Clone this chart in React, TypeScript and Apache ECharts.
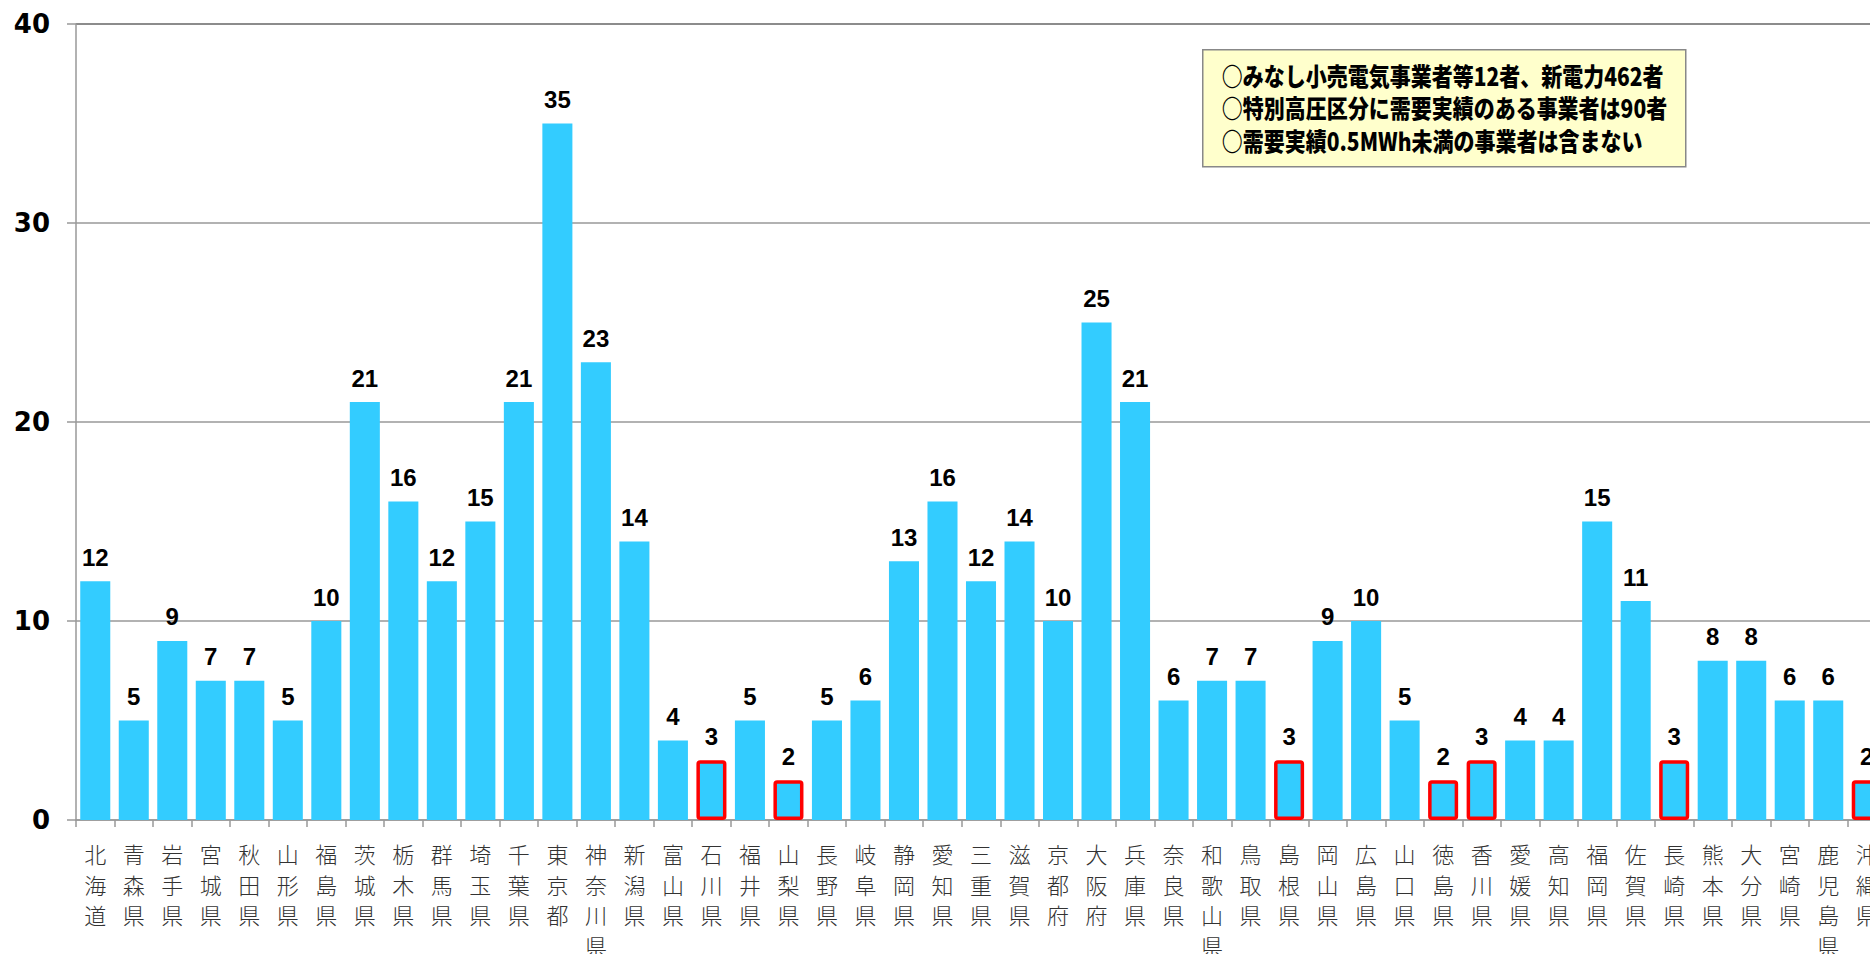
import React, { useEffect, useRef } from "react";
import * as echarts from "echarts";

const prefectures: string[] = [
  "北海道", "青森県", "岩手県", "宮城県", "秋田県", "山形県", "福島県", "茨城県", "栃木県", "群馬県",
  "埼玉県", "千葉県", "東京都", "神奈川県", "新潟県", "富山県", "石川県", "福井県", "山梨県", "長野県",
  "岐阜県", "静岡県", "愛知県", "三重県", "滋賀県", "京都府", "大阪府", "兵庫県", "奈良県", "和歌山県",
  "鳥取県", "島根県", "岡山県", "広島県", "山口県", "徳島県", "香川県", "愛媛県", "高知県", "福岡県",
  "佐賀県", "長崎県", "熊本県", "大分県", "宮崎県", "鹿児島県", "沖縄県",
];

const operatorCounts: number[] = [
  12, 5, 9, 7, 7, 5, 10, 21, 16, 12,
  15, 21, 35, 23, 14, 4, 3, 5, 2, 5,
  6, 13, 16, 12, 14, 10, 25, 21, 6, 7,
  7, 3, 9, 10, 5, 2, 3, 4, 4, 15,
  11, 3, 8, 8, 6, 6, 2,
];

const highlighted: string[] = ["石川県", "山梨県", "島根県", "徳島県", "香川県", "長崎県", "沖縄県"];

const yTicks: number[] = [0, 10, 20, 30, 40];

const noteLines: string[] = [
  "○みなし小売電気事業者等12者、新電力462者",
  "○特別高圧区分に需要実績のある事業者は90者",
  "○需要実績0.5MWh未満の事業者は含まない",
];

export default function App() {
  const ref = useRef<HTMLDivElement>(null);

  useEffect(() => {
    if (!ref.current) return;
    const chart = echarts.init(ref.current, undefined, { renderer: "svg" });

    const data = operatorCounts.map((v, i) => {
      const isHi = highlighted.includes(prefectures[i]);
      return isHi
        ? { value: v, itemStyle: { color: "#33CCFF", borderColor: "#FF0000", borderWidth: 3.5, borderRadius: 2 } }
        : { value: v };
    });

    chart.setOption({
      animation: false,
      backgroundColor: "#ffffff",
      grid: { left: 76, right: 4, top: 24, bottom: 180, containLabel: false, outerBoundsMode: "none" },
      xAxis: {
        type: "category",
        data: prefectures,
        boundaryGap: true,
        axisLine: { show: true, lineStyle: { color: "#999999", width: 1.5 } },
        axisTick: { show: true, length: 7, lineStyle: { color: "#999999", width: 1.5 } },
        axisLabel: {
          interval: 0,
          margin: 18,
          fontSize: 22,
          lineHeight: 30.5,
          color: "#333333",
          fontFamily: "Noto Sans CJK JP",
          fontWeight: 300,
          formatter: (v: string) => v.split("").join("\n"),
        },
      },
      yAxis: {
        type: "value",
        min: yTicks[0],
        max: yTicks[yTicks.length - 1],
        interval: 10,
        axisLine: { show: true, lineStyle: { color: "#999999", width: 1.5 } },
        axisTick: { show: true, length: 9, lineStyle: { color: "#999999", width: 1.5 } },
        axisLabel: {
          margin: 26,
          fontSize: 26,
          fontWeight: "bold",
          color: "#000000",
          fontFamily: "DejaVu Sans",
        },
        splitLine: {
          show: true,
          lineStyle: { color: ["#999999", "#999999", "#999999", "#999999", "#666666"], width: 1.5 },
        },
      },
      series: [
        {
          type: "bar",
          data,
          barCategoryGap: "22%",
          itemStyle: { color: "#33CCFF" },
          label: {
            show: true,
            position: "top",
            distance: 12,
            fontSize: 24,
            fontWeight: "bold",
            color: "#000000",
            fontFamily: "Liberation Sans",
          },
        },
      ],
      graphic: [
        {
          type: "group",
          left: 1202,
          top: 49,
          children: [
            {
              type: "rect",
              shape: { x: 0, y: 0, width: 483, height: 117 },
              style: { fill: "#FFFFCC", stroke: "#888888", lineWidth: 1.5 },
            },
            ...noteLines.map((t, i) => ({
              type: "text",
              x: 19,
              y: 25 + i * 32.5,
              scaleX: 0.84,
              style: {
                text: t,
                fontSize: 25,
                fontWeight: 900,
                fontFamily: "Noto Sans CJK JP",
                fill: "#000000",
                verticalAlign: "middle",
                align: "left",
              },
            })),
          ],
        },
      ],
    });

    return () => chart.dispose();
  }, []);

  return (
    <div style={{ position: "fixed", left: 0, top: 0, width: 1870, height: 954, overflow: "hidden", background: "#fff" }}>
      <div ref={ref} style={{ width: 1890, height: 1000 }} />
    </div>
  );
}
